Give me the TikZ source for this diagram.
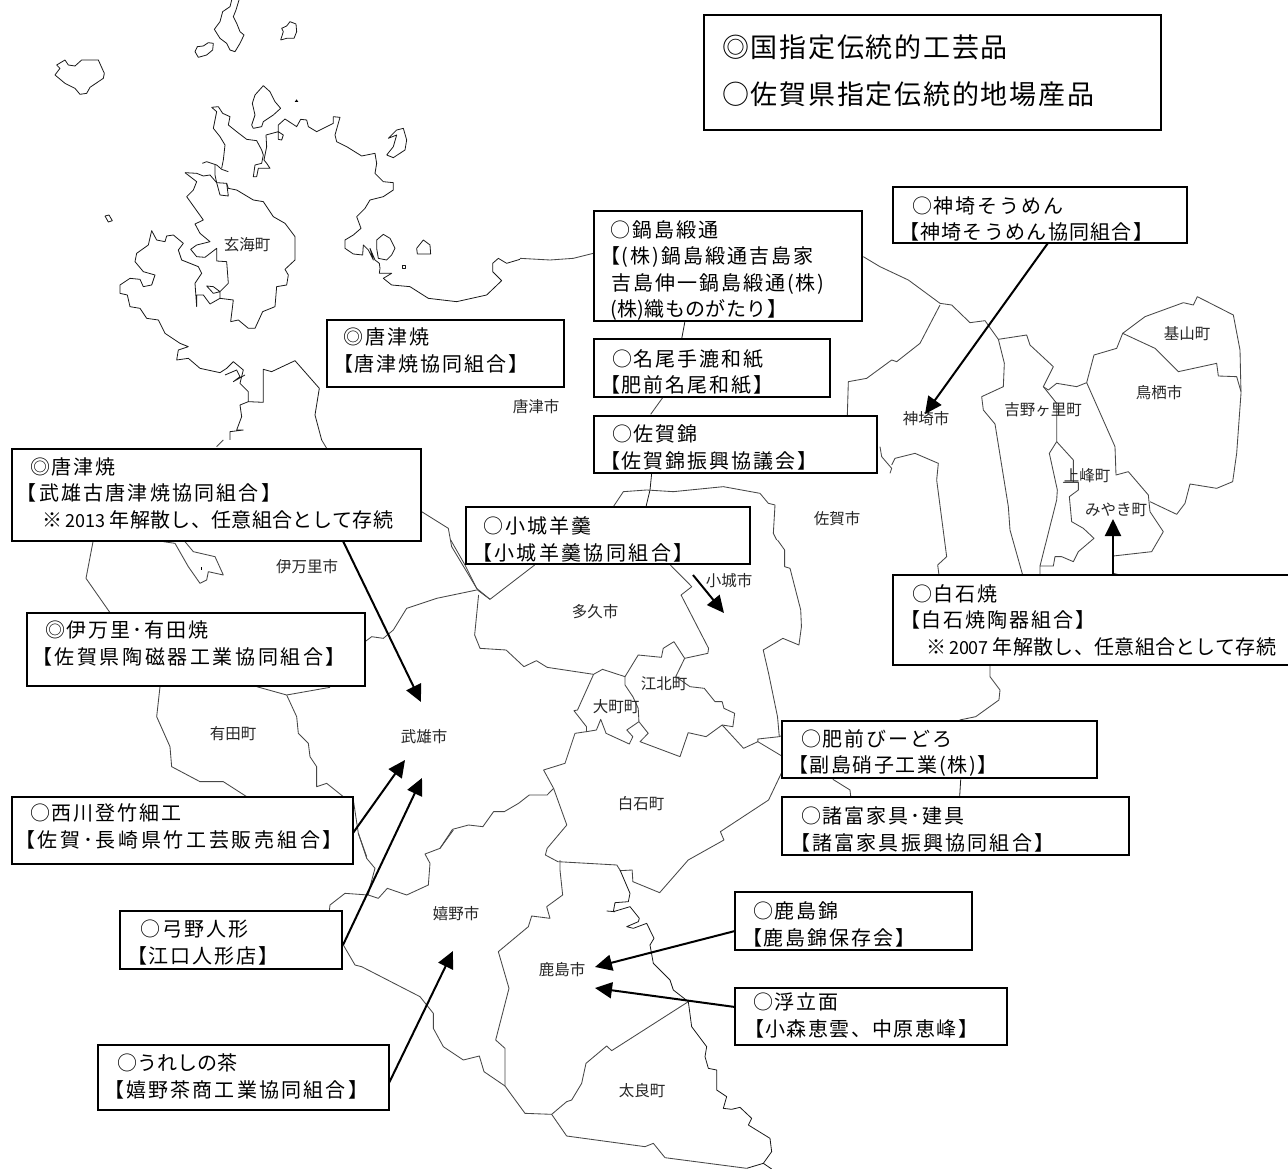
\documentclass[tikz,border=0pt]{standalone}
\usepackage{fontspec}
\usetikzlibrary{arrows.meta}
\newfontfamily\jp{Noto Sans CJK JP}
\newfontfamily\jpbox{Noto Sans CJK JP}[LetterSpace=10]
\newfontfamily\jpleg{Noto Sans CJK JP}[LetterSpace=6.5]
\newcommand\hdig[1]{{\jp\fontsize{18}{26.5}\selectfont #1}}
\newcommand\lsp[2]{{\addfontfeature{LetterSpace=#1}#2}}
\newcommand\noteline[2]{※\hspace{3pt}\hdig{#1}\hspace{4pt}\lsp{1.5}{#2}}
\AtBeginDocument{\lineskiplimit=-50pt\relax\normallineskiplimit=-50pt\relax}
\tikzset{
  ml/.style={draw=black!72,line width=0.85pt,line join=round},
  mlk/.style={draw=black!90,line width=0.8pt,line join=round},
  tbox/.style={draw=black,fill=white,line width=2pt,anchor=north west,inner xsep=4pt,inner ysep=0pt,outer sep=0pt,align=left,font=\jpbox\fontsize{20}{26.5}\selectfont},
  legbox/.style={tbox,font=\jpleg\fontsize{27}{47}\selectfont},
  down/.style={execute at end node={\vspace*{-#1pt}}},
  up/.style={execute at end node={\vspace*{#1pt}}},
  place/.style={inner sep=0pt,font=\jp\fontsize{15.5}{15.5}\selectfont,text=black!85},
  arr/.style={-{Triangle[length=17pt,width=16pt]},line width=2pt,draw=black},
  zA/.style={x=0.33333pt,y=-0.33333pt,shift={(40pt,0pt)}},
  zB/.style={x=0.33333pt,y=-0.33333pt,shift={(440pt,-240pt)}},
  zC/.style={x=0.33333pt,y=-0.33333pt,shift={(840pt,-280pt)}},
  zD/.style={x=0.33333pt,y=-0.33333pt,shift={(60pt,-440pt)}},
  zE/.style={x=0.35714pt,y=-0.33333pt,shift={(440pt,-540pt)}},
  zF/.style={x=0.33333pt,y=-0.33333pt,shift={(300pt,-830pt)}},
}
\begin{document}
\begin{tikzpicture}[x=1pt,y=-1pt]
\useasboundingbox (0,0) rectangle (1288,1169);
\fill[white] (0,0) rectangle (1288,1169);
% ---------- map
\begin{scope}[zA]
\draw[mlk] plot coordinates {(575,0)(570,20)(548,35)(540,65)(523,88)(540,115)(560,130)(570,150)(585,155)(600,130)(612,105)(600,95)(590,70)(580,50)(588,30)(597,0)};
\draw[mlk] plot coordinates {(465,155)(472,140)(490,138)(505,128)(520,130)(518,150)(500,165)(475,172)(465,155)};
\draw[mlk] plot coordinates {(722,120)(730,95)(725,85)(740,78)(750,65)(768,72)(770,95)(762,115)(740,115)(722,120)};
\draw[mlk] plot coordinates {(45,225)(60,205)(50,195)(75,180)(85,195)(105,198)(125,180)(175,180)(193,220)(190,235)(150,262)(140,280)(120,283)(105,265)(75,250)(45,225)};
\draw[mlk] plot coordinates {(635,375)(645,345)(637,310)(645,285)(670,257)(690,275)(705,305)(722,325)(700,345)(670,365)(665,380)(640,385)(635,375)};
\fill[black] (764,306)--(770,298)--(775,306)--cycle;
\draw[mlk] plot coordinates {(515,322)(535,320)(548,340)(570,350)(565,375)(590,395)(620,418)(650,422)(665,450)(670,465)(665,490)(645,495)(640,530)(650,530)(655,505)(690,505)(680,490)(672,480)(680,440)(678,405)(715,395)(730,405)(725,420)(715,418)(715,375)(735,357)(770,380)(782,358)(800,360)(805,380)(830,395)(880,370)(880,350)(900,352)(885,405)(890,425)(920,440)(965,468)(1005,460)(1010,490)(1005,520)(1030,545)(1060,548)(1060,570)(1030,590)(990,600)(975,625)(950,650)(963,685)(940,705)(915,720)(915,745)(940,762)(968,765)(970,735)(985,750)(1000,780)(990,745)(1005,780)(1018,790)(1020,805)(1018,820)(1055,820)(1030,835)(1055,855)(1110,860)(1165,895)(1250,905)(1340,885)(1385,842)(1358,815)(1358,790)(1375,775)(1400,790)(1440,778)};
\draw[mlk] plot coordinates {(515,322)(530,335)(520,385)(540,410)(555,435)(550,480)(545,505)};
\draw[mlk] plot coordinates {(487,490)(500,485)(530,495)(545,508)(565,515)};
\draw[mlk] plot coordinates {(525,495)(525,525)(530,548)(540,585)(565,588)(560,550)};
\draw[mlk] plot coordinates {(1040,465)(1060,440)(1070,405)(1045,415)(1070,390)(1090,385)(1100,420)(1095,450)(1060,473)(1040,465)};
\draw[mlk] plot coordinates {(1010,720)(1030,703)(1050,715)(1065,745)(1055,765)(1040,780)(1015,775)(1010,745)(1010,720)};
\draw[mlk] plot coordinates {(1132,762)(1130,745)(1150,720)(1170,735)(1172,762)(1132,762)};
\draw[mlk] (1088,795) rectangle (1097,804);
\draw[mlk] plot coordinates {(195,648)(207,645)(217,662)(205,666)(195,648)};
\draw[mlk] plot coordinates {(435,518)(470,520)(490,528)(510,525)(530,548)(560,550)(565,565)(590,570)(640,600)(670,605)(700,650)(735,670)(765,710)(765,780)(735,808)(745,825)(740,855)(710,860)(705,920)(668,935)(645,985)(625,985)(595,960)(572,965)(580,900)(540,895)(510,912)(490,885)(470,885)(470,920)(465,850)(485,820)(475,800)(425,780)(415,750)(430,730)(400,705)(380,708)(375,725)(350,720)(335,692)(325,735)(290,760)(285,785)(310,815)(345,825)(335,855)(310,860)(300,838)(270,835)(240,855)(240,880)(262,885)(270,920)(300,925)(320,955)(355,960)(375,1000)(420,1030)(445,1040)(415,1050)(410,1080)(445,1075)(480,1105)(540,1118)(560,1105)(580,1085)(610,1110)(600,1150)(625,1175)(625,1205)(670,1207)(670,1108)(695,1115)(765,1082)(838,1165)(825,1245)(845,1320)};
\draw[mlk] plot coordinates {(625,1205)(600,1215)(605,1250)(590,1290)(610,1290)(570,1295)(570,1320)};
\draw[mlk] plot coordinates {(555,1125)(590,1110)(600,1130)(580,1145)(615,1125)};
\draw[mlk] plot coordinates {(435,518)(470,545)(460,570)(440,590)(490,660)(465,672)(480,700)(510,725)(470,735)(452,748)(470,770)(495,772)(530,745)(530,783)(560,785)(565,850)(540,875)(520,860)(500,858)(520,880)(540,875)(540,895)};
\end{scope}
\begin{scope}[zB]
\draw[ml] plot coordinates {(240,55)(330,60)(400,55)(460,40)};
\draw[ml] plot coordinates {(1270,50)(1320,80)(1405,120)};
\draw[mlk] plot coordinates {(735,243)(725,297)};
\draw[ml] plot coordinates {(668,473)(632,523)};
\draw[mlk] plot coordinates {(635,700)(630,750)(618,800)};
\draw[ml] plot coordinates {(520,800)(550,755)(620,750)(700,755)(850,740)(960,760)(985,790)(1005,795)(1000,880)(1010,900)};
\end{scope}
\begin{scope}[zC]
\draw[ml] plot coordinates {(205,0)(300,70)(335,75)(390,128)(435,122)(475,178)(560,165)(570,195)(640,260)(610,320)(650,370)(650,485)(700,540)(700,607)(670,607)(715,607)(715,630)(688,650)(695,725)(730,745)(762,775)(715,815)(700,845)(665,830)(645,830)(640,858)(600,858)(600,885)};
\draw[ml] plot coordinates {(300,75)(240,190)(170,245)(155,240)(80,295)(25,305)(22,405)};
\draw[ml] plot coordinates {(475,178)(493,250)(490,320)(425,350)(430,390)(465,432)(505,680)(510,750)(548,885)};
\draw[ml] plot coordinates {(650,485)(628,520)(652,630)(650,660)(600,858)};
\draw[ml] plot coordinates {(610,320)(625,330)(650,310)(710,320)(740,308)(825,500)(828,585)(865,575)(925,645)(930,695)(970,755)(935,815)(820,828)};
\draw[ml] plot coordinates {(740,308)(762,225)(830,205)(848,160)(915,110)(1030,68)(1060,75)(1072,50)(1180,105)(1200,210)(1203,340)(1190,520)(1178,605)(1130,625)(1050,612)(1035,670)(1010,703)(930,665)};
\draw[ml] plot coordinates {(848,160)(945,205)(1015,275)(1130,250)(1135,288)(1190,290)(1203,335)};
\draw[ml] plot coordinates {(120,500)(125,530)(155,565)(150,580)};
\draw[ml] plot coordinates {(155,555)(165,535)(225,520)(295,550)(290,600)(320,830)(293,855)(297,885)};
\draw[ml] plot coordinates {(820,880)(840,885)};
\end{scope}
\begin{scope}[zD]
\draw[ml] plot coordinates {(470,20)(490,0)};
\draw[ml] plot coordinates {(785,0)(800,25)};
\draw[ml] plot coordinates {(100,300)(78,415)(150,518)};
\draw[ml] plot coordinates {(310,305)(345,310)(385,380)(420,430)(440,420)(445,395)(490,405)(465,350)(400,335)(375,305)};
\fill[black] (422,380) rectangle (427,390);
\draw[ml] plot coordinates {(1085,215)(1165,265)(1175,320)(1250,445)(1290,478)};
\draw[ml] plot coordinates {(1250,450)(1130,475)(1040,505)(1000,570)(970,595)(935,590)(915,605)};
\draw[ml] plot coordinates {(300,740)(290,830)(330,920)(335,980)(420,1025)(490,1025)(560,1070)};
\draw[ml] plot coordinates {(590,740)(680,765)(810,742)};
\draw[ml] plot coordinates {(680,765)(710,830)(715,880)(745,910)(750,950)(770,980)(770,1040)(800,1030)(850,1070)(880,1080)(895,1180)(920,1250)};
\end{scope}
\begin{scope}[zE]
\draw[ml] plot coordinates {(265,75)(140,178)(105,150)};
\draw[ml] plot coordinates {(30,0)(70,75)(105,150)};
\draw[ml] plot coordinates {(108,165)(97,285)(112,325)(185,330)(235,380)(270,362)(300,382)(430,403)(455,388)(518,410)(555,345)(620,352)(625,325)(655,305)(685,355)(750,340)(752,325)(675,165)(705,140)(645,75)};
\draw[ml] plot coordinates {(685,355)(660,410)(700,440)(740,445)(770,485)(790,485)(795,505)(825,520)(820,560)(790,555)(745,590)(695,578)(672,650)(560,605)(583,580)(557,545)(555,505)(540,470)(518,435)(518,410)};
\draw[ml] plot coordinates {(430,403)(385,510)(375,512)(410,560)(410,575)(378,580)(350,670)(290,690)(318,745)(355,855)(300,925)(295,945)(330,965)(495,975)(505,992)};
\draw[ml] plot coordinates {(410,575)(438,570)(450,538)(465,580)(530,612)(540,590)(523,570)(557,545)};
\draw[ml] plot coordinates {(790,555)(850,625)(890,605)(890,597)(950,590)(960,585)};
\draw[ml] plot coordinates {(890,605)(960,650)};
\draw[ml] plot coordinates {(960,690)(920,780)(785,875)(795,900)(695,960)(615,1058)(540,1025)(538,990)(505,992)};
\draw[ml] plot coordinates {(318,745)(300,765)(250,765)(220,790)(180,815)(150,815)(120,860)(80,855)(35,868)(0,925)};
\draw[ml] plot coordinates {(945,0)(965,30)(965,80)(980,85)(1010,210)(1012,260)(1005,315)(960,295)(905,330)(920,400)(945,530)(950,590)};
\draw[ml] plot coordinates {(1540,378)(1540,410)(1568,450)(1565,480)(1500,530)(1455,540)};
\draw[ml] plot coordinates {(1100,718)(1148,750)(1150,770)};
\draw[mlk] plot coordinates {(1458,718)(1455,770)};
\end{scope}
\begin{scope}[zF]
\draw[ml] plot coordinates {(175,10)(200,85)(225,115)(210,170)(205,195)(135,190)(90,225)(88,243)};
\draw[ml] plot coordinates {(205,195)(235,205)(262,175)(320,195)(385,165)(390,100)(375,72)(420,55)(460,0)};
\draw[ml] plot coordinates {(130,345)(165,405)(185,410)(360,500)(400,550)(400,595)(430,650)(490,690)(538,678)(552,725)(615,768)};
\draw[ml] plot coordinates {(615,768)(615,655)(587,630)(627,475)(595,365)(685,290)(695,258)(750,265)(740,230)(788,195)(780,120)(780,90)};
\draw[mlk] plot coordinates {(960,120)(990,190)(985,215)(945,218)(940,245)(990,230)(1018,265)(1015,275)(980,290)(1000,295)(1040,280)(1062,325)(1050,345)(1060,400)(1110,450)(1120,480)(1165,515)(1175,590)(1220,650)(1215,680)(1225,715)(1250,720)(1250,780)(1280,800)(1270,835)(1295,838)(1320,832)(1355,865)(1345,885)(1410,925)(1415,965)(1390,1000)(1340,1015)};
\draw[mlk] plot coordinates {(920,243)(945,245)};
\draw[mlk] plot coordinates {(1390,1000)(1415,1017)};
\draw[ml] plot coordinates {(615,768)(675,850)(755,853)(800,815)(815,810)(845,760)(858,700)(920,648)(935,662)(1165,515)};
\draw[ml] plot coordinates {(755,853)(800,918)(1035,950)(1060,940)(1095,983)(1340,1015)};
\end{scope}
% ---------- place names
\node[place] (pGenkai) at (247,245) {玄海町};
\node[place] (pKaratsu) at (536,407) {唐津市};
\node[place] (pSaga) at (837,519) {佐賀市};
\node[place] (pImari) at (307,567) {伊万里市};
\node[place] (pTaku) at (595,612) {多久市};
\node[place] (pOgi) at (729,581) {小城市};
\node[place] (pKohoku) at (664,684) {江北町};
\node[place] (pOmachi) at (616,707) {大町町};
\node[place] (pArita) at (233,734) {有田町};
\node[place] (pTakeo) at (424,737) {武雄市};
\node[place] (pShiroishi) at (641,804) {白石町};
\node[place] (pUreshino) at (456,914) {嬉野市};
\node[place] (pKashima) at (562,970) {鹿島市};
\node[place] (pTara) at (642,1091) {太良町};
\node[place] (pKanzaki) at (926,419) {神埼市};
\node[place] (pYoshino) at (1043,410) {吉野ヶ里町};
\node[place] (pKiyama) at (1187,334) {基山町};
\node[place] (pTosu) at (1159,393) {鳥栖市};
\node[place] (pKamimine) at (1087,476) {上峰町};
\node[place] (pMiyaki) at (1116,510) {みやき町};
% ---------- boxes
\node[legbox,up=3,text width=449pt,minimum height=115pt] (leg) at (704,15) {\hspace*{14pt}◎国指定伝統的工芸品\\\hspace*{14pt}○佐賀県指定伝統的地場産品};
\node[tbox,down=8,text width=286pt,minimum height=56pt] (bKanzaki) at (893,187) {\hspace*{15pt}○神埼そうめん\\\hspace*{2pt}\lsp{6.5}{【神埼そうめん協同組合】}};
\node[tbox,down=9,text width=260pt,minimum height=110pt] (bNabe) at (594,211) {\hspace*{12pt}○鍋島緞通\\\hspace*{2pt}【(株)鍋島緞通吉島家\\\hspace*{13pt}吉島伸一鍋島緞通(株)\\\hspace*{12pt}\lsp{2}{(株)織ものがたり】}};
\node[tbox,up=6,text width=229pt,minimum height=67pt] (bKaratsu) at (327,320) {\hspace*{12pt}◎唐津焼\\\hspace*{2pt}【唐津焼協同組合】};
\node[tbox,down=8,text width=228pt,minimum height=58pt] (bNao) at (594,339) {\hspace*{14pt}○名尾手漉和紙\\\hspace*{2pt}【肥前名尾和紙】};
\node[tbox,down=6,text width=275pt,minimum height=57pt] (bNishiki) at (594,416) {\hspace*{14pt}○佐賀錦\\\hspace*{2pt}【佐賀錦振興協議会】};
\node[tbox,up=4,text width=401pt,minimum height=92pt] (bTakeo) at (12,449) {\hspace*{14pt}◎唐津焼\\\hspace*{1pt}\lsp{11}{【武雄古唐津焼協同組合】}\\\hspace*{27pt}\noteline{2013}{年解散し、任意組合として存続}};
\node[tbox,down=8,text width=276pt,minimum height=57pt] (bOgi) at (466,507) {\hspace*{13pt}○小城羊羹\\\hspace*{2pt}\lsp{12}{【小城羊羹協同組合】}};
\node[tbox,text width=389pt,minimum height=90pt] (bShira) at (893,575) {\hspace*{15pt}○白石焼\\\hspace*{3pt}【白石焼陶器組合】\\\hspace*{29pt}\noteline{2007}{年解散し、任意組合として存続}};
\node[tbox,up=12,text width=330pt,minimum height=73pt] (bImari) at (27,613) {\hspace*{14pt}◎伊万里･有田焼\\\hspace*{1pt}\lsp{13}{【佐賀県陶磁器工業協同組合】}};
\node[tbox,down=7,text width=307pt,minimum height=57pt] (bHizen) at (782,721) {\hspace*{15pt}○肥前びーどろ\\\hspace*{2pt}\lsp{8}{【副島硝子工業(株)】}};
\node[tbox,down=7,text width=339pt,minimum height=58pt] (bMoro) at (782,797) {\hspace*{15pt}○諸富家具･建具\\\hspace*{4pt}\lsp{11}{【諸富家具振興協同組合】}};
\node[tbox,up=8,text width=333pt,minimum height=67pt] (bNishi) at (12,797) {\hspace*{14pt}○西川登竹細工\\\hspace*{-1pt}\lsp{13.5}{【佐賀･長崎県竹工芸販売組合】}};
\node[tbox,down=5,text width=214pt,minimum height=58pt] (bYumino) at (120,911) {\hspace*{16pt}○弓野人形\\\hspace*{3pt}【江口人形店】};
\node[tbox,down=7,text width=229pt,minimum height=58pt] (bKnishiki) at (735,892) {\hspace*{14pt}○鹿島錦\\\hspace*{3pt}【鹿島錦保存会】};
\node[tbox,up=2,text width=264pt,minimum height=57pt] (bFuryu) at (735,988) {\hspace*{14pt}○浮立面\\\hspace*{5pt}\lsp{7}{【小森恵雲、中原恵峰】}};
\node[tbox,up=2,text width=283pt,minimum height=65pt] (bUre) at (98,1045) {\hspace*{15pt}\lsp{0}{○うれしの茶}\\\hspace*{2pt}\lsp{11}{【嬉野茶商工業協同組合】}};
% ---------- arrows
\coordinate (sTakeo) at (343,541);
\coordinate (tTakeo) at (421,702);
\coordinate (sKanzaki) at (1048,243);
\coordinate (tKanzaki) at (925,414);
\coordinate (sOgi) at (693,575);
\coordinate (tOgi) at (724,613);
\coordinate (sNishi) at (353,833);
\coordinate (tNishi) at (405,760);
\coordinate (sYumino) at (343,945);
\coordinate (tYumino) at (422,778);
\coordinate (sUre) at (389,1083);
\coordinate (tUre) at (453,951);
\coordinate (sKn) at (735,931);
\coordinate (tKn) at (595,967);
\coordinate (sFu) at (735,1007);
\coordinate (tFu) at (595,988);
\coordinate (sShira) at (1113,575);
\coordinate (tShira) at (1113,519);
\draw[arr] (sTakeo) -- (tTakeo);
\draw[arr] (sKanzaki) -- (tKanzaki);
\draw[arr] (sOgi) -- (tOgi);
\draw[arr] (sNishi) -- (tNishi);
\draw[arr] (sYumino) -- (tYumino);
\draw[arr] (sUre) -- (tUre);
\draw[arr] (sKn) -- (tKn);
\draw[arr] (sFu) -- (tFu);
\draw[arr] (sShira) -- (tShira);
\end{tikzpicture}
\end{document}
